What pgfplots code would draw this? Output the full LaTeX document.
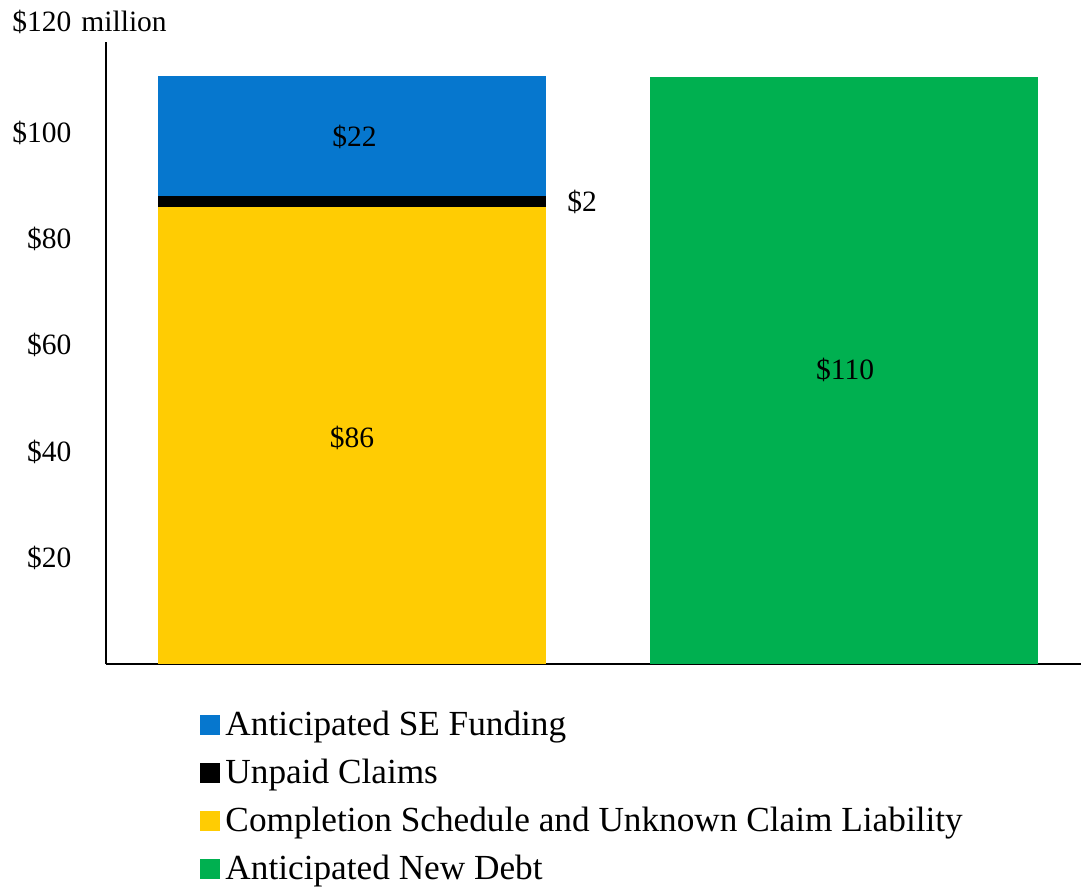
\documentclass[border=0pt]{standalone}
\usepackage{pgfplots}
\pgfplotsset{compat=1.18}
\usepackage{fontspec}
\setmainfont{Liberation Serif}
\definecolor{sefund}{RGB}{6,119,206}
\definecolor{unpaid}{RGB}{0,0,0}
\definecolor{compl}{RGB}{255,204,3}
\definecolor{newdebt}{RGB}{0,176,80}
\newcommand{\tickfont}{\fontsize{11.8}{14}\selectfont}
\newcommand{\legfont}{\fontsize{14.1}{17}\selectfont}

\begin{document}
\begin{tikzpicture}
\begin{axis}[scale only axis, width=390pt, height=248.8pt,
  xmin=-0.5005, xmax=1.483, ymin=0, ymax=117.1,
  ybar stacked, bar width=0.789,
  axis x line*=bottom, axis y line*=left,
  axis line style={line width=0.8pt,-},
  xtick=\empty, ytick={20,40,60,80,100},
  yticklabels={\$20,\$40,\$60,\$80,\$100},
  major tick length=0pt,
  yticklabel style={font=\tickfont, inner sep=0pt, xshift=-13.6pt},
  clip=false,
  legend image code/.code={\fill[#1] (0pt,-4pt) rectangle (8pt,4pt);},
  legend style={at={(0.0964,-0.066)}, anchor=north west, draw=none, fill=none,
    inner sep=0pt, font=\legfont, legend cell align=left, row sep=4pt,
    /tikz/every even column/.append style={column sep=0pt}},
  legend columns=1]
\addplot[fill=compl, draw=none, forget plot] coordinates {(0,86) (1,0)};
\addplot[fill=unpaid, draw=none, forget plot] coordinates {(0,2.1) (1,0)};
\addplot[fill=sefund, draw=none, forget plot] coordinates {(0,22.6) (1,0)};
\addplot[fill=newdebt, draw=none, forget plot] coordinates {(0,0) (1,110.6)};
\addlegendimage{fill=sefund, draw=none}
\addlegendentry{Anticipated SE Funding}
\addlegendimage{fill=unpaid, draw=none}
\addlegendentry{Unpaid Claims}
\addlegendimage{fill=compl, draw=none}
\addlegendentry{Completion Schedule and Unknown Claim Liability}
\addlegendimage{fill=newdebt, draw=none}
\addlegendentry{Anticipated New Debt}
\coordinate (l22) at (axis cs:0.005,99.2);
\coordinate (l86) at (axis cs:0,42.6);
\coordinate (l110) at (axis cs:1.003,55.4);
\coordinate (l2) at (axis cs:0.468,87);
\coordinate (l120) at (axis cs:-0.5005,120.9);
\coordinate (o) at (rel axis cs:0,0);
\end{axis}
\node[font=\tickfont] at (l22) {\$22};
\node[font=\tickfont] at (l86) {\$86};
\node[font=\tickfont] at (l110) {\$110};
\node[font=\tickfont] at (l2) {\$2};
\node[font=\tickfont, anchor=east, inner sep=0pt, xshift=-13.6pt] at (l120) {\$120\rlap{\hspace{4pt}million}};
\pgfresetboundingbox
\path[use as bounding box] ([shift={(-42.4pt,265.6pt)}]o) rectangle ([shift={(390pt,-88.8pt)}]o);
\end{tikzpicture}
\end{document}
